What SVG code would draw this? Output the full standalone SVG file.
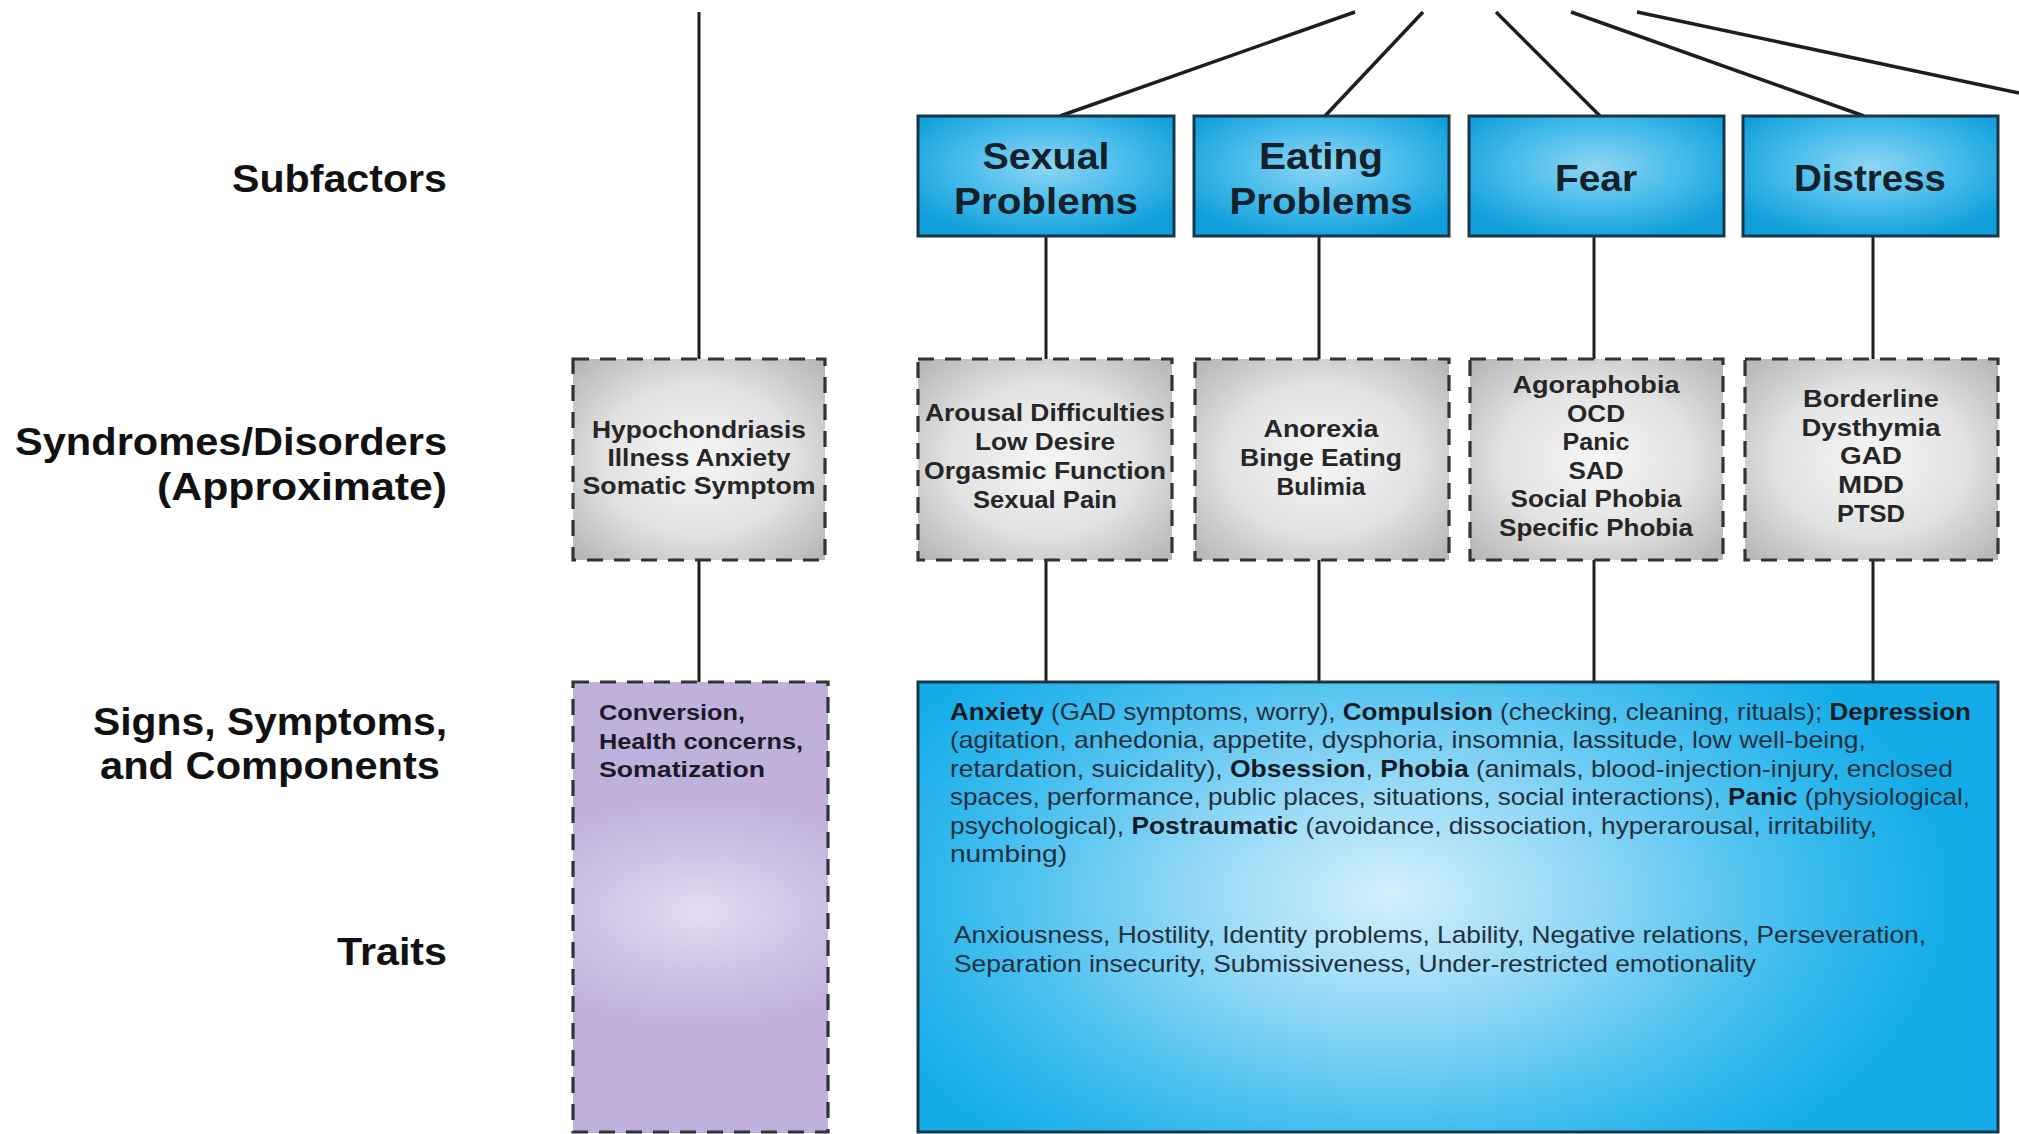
<svg xmlns="http://www.w3.org/2000/svg" width="2019" height="1134" viewBox="0 0 2019 1134">
  <defs>
    <radialGradient id="gSub" cx="50%" cy="42%" r="62%">
      <stop offset="0" stop-color="#8ed6f3"/>
      <stop offset="0.55" stop-color="#45bbeb"/>
      <stop offset="1" stop-color="#109fda"/>
    </radialGradient>
    <radialGradient id="gSyn" cx="50%" cy="50%" r="68%">
      <stop offset="0" stop-color="#f6f6f6"/>
      <stop offset="0.55" stop-color="#e2e2e2"/>
      <stop offset="1" stop-color="#b7b7b7"/>
    </radialGradient>
    <radialGradient id="gPurple" gradientUnits="userSpaceOnUse" cx="700" cy="912" r="210" gradientTransform="translate(700 912) scale(1 0.55) translate(-700 -912)">
      <stop offset="0" stop-color="#e3ddf1"/>
      <stop offset="0.5" stop-color="#cfc4e6"/>
      <stop offset="1" stop-color="#c0b1dc"/>
    </radialGradient>
    <radialGradient id="gBig" gradientUnits="userSpaceOnUse" cx="1390" cy="895" r="560" gradientTransform="translate(1390 895) scale(1 0.6) translate(-1390 -895)">
      <stop offset="0" stop-color="#d4f0fc"/>
      <stop offset="0.35" stop-color="#93d8f6"/>
      <stop offset="0.75" stop-color="#3abbee"/>
      <stop offset="1" stop-color="#14ace8"/>
    </radialGradient>
  </defs>
  <style>
    .lbl { font-family: "Liberation Sans", Arial, sans-serif; font-weight: 700; font-size: 38px; fill: #111; }
    .sub { font-family: "Liberation Sans", Arial, sans-serif; font-weight: 700; font-size: 37px; fill: #14202a; text-anchor: middle; }
    .syn { font-family: "Liberation Sans", Arial, sans-serif; font-weight: 700; font-size: 24px; fill: #262626; text-anchor: middle; }
    .body { font-family: "Liberation Sans", Arial, sans-serif; font-weight: 400; font-size: 24px; fill: #22303d; }
    .body tspan.b { font-weight: 700; fill: #131c26; }
    .pur { font-family: "Liberation Sans", Arial, sans-serif; font-weight: 700; font-size: 22px; fill: #1c1a28; }
    .subBox { fill: url(#gSub); stroke: #1b3647; stroke-width: 3; }
    .synBox { fill: url(#gSyn); stroke: none; }
    .dash { fill: none; stroke: #333; stroke-width: 3.2; stroke-dasharray: 16 11; }
    .conn { fill: none; stroke: #1e1e1e; stroke-width: 3; }
    .diag { fill: none; stroke: #1e1e1e; stroke-width: 3.5; }
  </style>

  <rect x="0" y="0" width="2019" height="1134" fill="#fff"/>

  <!-- level captions on the left -->
  <g id="level-labels">
    <text class="lbl" x="232" y="192" textLength="215" lengthAdjust="spacingAndGlyphs">Subfactors</text>
    <text class="lbl" x="15" y="455" textLength="432" lengthAdjust="spacingAndGlyphs">Syndromes/Disorders</text>
    <text class="lbl" x="157" y="500" textLength="290" lengthAdjust="spacingAndGlyphs">(Approximate)</text>
    <text class="lbl" x="93" y="735" textLength="354" lengthAdjust="spacingAndGlyphs">Signs, Symptoms,</text>
    <text class="lbl" x="100" y="779" textLength="340" lengthAdjust="spacingAndGlyphs">and Components</text>
    <text class="lbl" x="337" y="965" textLength="110" lengthAdjust="spacingAndGlyphs">Traits</text>
  </g>

  <!-- connectors -->
  <g id="connectors">
    <path class="diag" d="M1355 12 L1060 116"/>
    <path class="diag" d="M1423 12 L1325 116"/>
    <path class="diag" d="M1496 12 L1600 116"/>
    <path class="diag" d="M1571 12 L1864 116"/>
    <path class="diag" d="M1637 12 L2019 93"/>
    <path class="conn" d="M699 12 V359"/>
    <path class="conn" d="M699 560 V682"/>
    <path class="conn" d="M1046 236 V359 M1046 560 V682"/>
    <path class="conn" d="M1319 236 V359 M1319 560 V682"/>
    <path class="conn" d="M1594 236 V359 M1594 560 V682"/>
    <path class="conn" d="M1873 236 V359 M1873 560 V682"/>
  </g>

  <!-- subfactor boxes -->
  <g id="sub-sexual">
    <rect class="subBox" x="918" y="116" width="256" height="120"/>
    <text class="sub" x="1046" y="169" textLength="127" lengthAdjust="spacingAndGlyphs">Sexual</text>
    <text class="sub" x="1046" y="214" textLength="184" lengthAdjust="spacingAndGlyphs">Problems</text>
  </g>
  <g id="sub-eating">
    <rect class="subBox" x="1194" y="116" width="255" height="120"/>
    <text class="sub" x="1321" y="169" textLength="124" lengthAdjust="spacingAndGlyphs">Eating</text>
    <text class="sub" x="1321" y="214" textLength="183" lengthAdjust="spacingAndGlyphs">Problems</text>
  </g>
  <g id="sub-fear">
    <rect class="subBox" x="1469" y="116" width="255" height="120"/>
    <text class="sub" x="1596" y="191" textLength="82" lengthAdjust="spacingAndGlyphs">Fear</text>
  </g>
  <g id="sub-distress">
    <rect class="subBox" x="1743" y="116" width="255" height="120"/>
    <text class="sub" x="1870" y="191" textLength="152" lengthAdjust="spacingAndGlyphs">Distress</text>
  </g>

  <!-- syndrome / disorder boxes -->
  <g id="syn-somatic">
    <rect class="synBox" x="573" y="359" width="252" height="201"/>
    <rect class="dash" x="573" y="359" width="252" height="201"/>
    <text class="syn" x="699" y="438" textLength="214" lengthAdjust="spacingAndGlyphs">Hypochondriasis</text>
    <text class="syn" x="699" y="466" textLength="183" lengthAdjust="spacingAndGlyphs">Illness Anxiety</text>
    <text class="syn" x="699" y="494" textLength="233" lengthAdjust="spacingAndGlyphs">Somatic Symptom</text>
  </g>
  <g id="syn-sexual">
    <rect class="synBox" x="918" y="359" width="254" height="201"/>
    <rect class="dash" x="918" y="359" width="254" height="201"/>
    <text class="syn" x="1045" y="421" textLength="240" lengthAdjust="spacingAndGlyphs">Arousal Difficulties</text>
    <text class="syn" x="1045" y="450" textLength="140" lengthAdjust="spacingAndGlyphs">Low Desire</text>
    <text class="syn" x="1045" y="479" textLength="242" lengthAdjust="spacingAndGlyphs">Orgasmic Function</text>
    <text class="syn" x="1045" y="508" textLength="144" lengthAdjust="spacingAndGlyphs">Sexual Pain</text>
  </g>
  <g id="syn-eating">
    <rect class="synBox" x="1195" y="359" width="254" height="201"/>
    <rect class="dash" x="1195" y="359" width="254" height="201"/>
    <text class="syn" x="1321" y="437" textLength="115" lengthAdjust="spacingAndGlyphs">Anorexia</text>
    <text class="syn" x="1321" y="466" textLength="162" lengthAdjust="spacingAndGlyphs">Binge Eating</text>
    <text class="syn" x="1321" y="495" textLength="89" lengthAdjust="spacingAndGlyphs">Bulimia</text>
  </g>
  <g id="syn-fear">
    <rect class="synBox" x="1470" y="359" width="253" height="201"/>
    <rect class="dash" x="1470" y="359" width="253" height="201"/>
    <text class="syn" x="1596" y="393" textLength="167" lengthAdjust="spacingAndGlyphs">Agoraphobia</text>
    <text class="syn" x="1596" y="422" textLength="58" lengthAdjust="spacingAndGlyphs">OCD</text>
    <text class="syn" x="1596" y="450" textLength="67" lengthAdjust="spacingAndGlyphs">Panic</text>
    <text class="syn" x="1596" y="479" textLength="55" lengthAdjust="spacingAndGlyphs">SAD</text>
    <text class="syn" x="1596" y="507" textLength="171" lengthAdjust="spacingAndGlyphs">Social Phobia</text>
    <text class="syn" x="1596" y="536" textLength="194" lengthAdjust="spacingAndGlyphs">Specific Phobia</text>
  </g>
  <g id="syn-distress">
    <rect class="synBox" x="1745" y="359" width="253" height="201"/>
    <rect class="dash" x="1745" y="359" width="253" height="201"/>
    <text class="syn" x="1871" y="407" textLength="136" lengthAdjust="spacingAndGlyphs">Borderline</text>
    <text class="syn" x="1871" y="436" textLength="139" lengthAdjust="spacingAndGlyphs">Dysthymia</text>
    <text class="syn" x="1871" y="464" textLength="62" lengthAdjust="spacingAndGlyphs">GAD</text>
    <text class="syn" x="1871" y="493" textLength="66" lengthAdjust="spacingAndGlyphs">MDD</text>
    <text class="syn" x="1871" y="522" textLength="68" lengthAdjust="spacingAndGlyphs">PTSD</text>
  </g>

  <!-- somatoform symptoms and traits -->
  <g id="somatic-components">
    <rect x="573" y="682" width="255" height="451" fill="url(#gPurple)"/>
    <rect class="dash" x="573" y="682" width="255" height="450"/>
    <text class="pur" x="599" y="720" textLength="146" lengthAdjust="spacingAndGlyphs">Conversion,</text>
    <text class="pur" x="599" y="749" textLength="204" lengthAdjust="spacingAndGlyphs">Health concerns,</text>
    <text class="pur" x="599" y="777" textLength="166" lengthAdjust="spacingAndGlyphs">Somatization</text>
  </g>

  <!-- internalizing symptoms, components and traits -->
  <g id="internalizing-components">
    <rect x="918" y="682" width="1080" height="450" fill="url(#gBig)" stroke="#1b3647" stroke-width="3"/>
    <text class="body" x="950" y="720" textLength="1021" lengthAdjust="spacingAndGlyphs"><tspan class="b">Anxiety</tspan> (GAD symptoms, worry), <tspan class="b">Compulsion</tspan> (checking, cleaning, rituals); <tspan class="b">Depression</tspan></text>
    <text class="body" x="950" y="748" textLength="916" lengthAdjust="spacingAndGlyphs">(agitation, anhedonia, appetite, dysphoria, insomnia, lassitude, low well-being,</text>
    <text class="body" x="950" y="777" textLength="1003" lengthAdjust="spacingAndGlyphs">retardation, suicidality), <tspan class="b">Obsession</tspan>, <tspan class="b">Phobia</tspan> (animals, blood-injection-injury, enclosed</text>
    <text class="body" x="950" y="805" textLength="1020" lengthAdjust="spacingAndGlyphs">spaces, performance, public places, situations, social interactions), <tspan class="b">Panic</tspan> (physiological,</text>
    <text class="body" x="950" y="834" textLength="927" lengthAdjust="spacingAndGlyphs">psychological), <tspan class="b">Postraumatic</tspan> (avoidance, dissociation, hyperarousal, irritability,</text>
    <text class="body" x="950" y="862" textLength="117" lengthAdjust="spacingAndGlyphs">numbing)</text>
    <text class="body" x="954" y="943" textLength="972" lengthAdjust="spacingAndGlyphs">Anxiousness, Hostility, Identity problems, Lability, Negative relations, Perseveration,</text>
    <text class="body" x="954" y="972" textLength="802" lengthAdjust="spacingAndGlyphs">Separation insecurity, Submissiveness, Under-restricted emotionality</text>
  </g>
</svg>
